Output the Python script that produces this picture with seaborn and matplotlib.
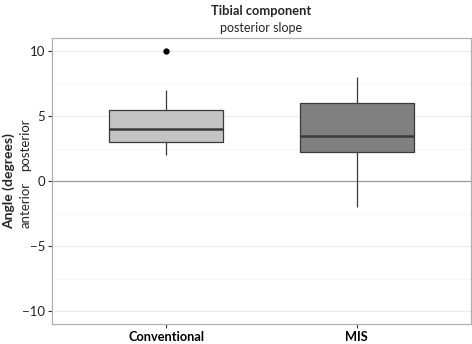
import pandas as pd
import matplotlib.pyplot as plt
import matplotlib.transforms as mtransforms
from matplotlib.ticker import MultipleLocator
import seaborn as sns

# Values (boxes: quartiles, whiskers, outlier)
conventional = [2, 3, 3, 3, 4, 4, 4, 5, 5.5, 5.5, 7, 10]
mis = [-2, 1, 2, 2.5, 3, 3.5, 4, 6, 6, 7, 8]
groups = ['Conventional', 'MIS']
fills = ['#c4c4c4', '#808080']

data = pd.DataFrame({
    'Group': ['Conventional'] * len(conventional) + ['MIS'] * len(mis),
    'Angle': conventional + mis,
})

sns.set_style('white')
plt.rcParams['font.family'] = ['Lato', 'DejaVu Sans']

fig = plt.figure(figsize=(4.72, 3.44), dpi=100)
ax = fig.add_axes([0.1102, 0.0581, 0.8877, 0.8314])

# Grid lines like the ggplot theme
ax.set_axisbelow(True)
ax.yaxis.set_major_locator(MultipleLocator(5))
ax.yaxis.set_minor_locator(MultipleLocator(2.5))
ax.grid(True, which='major', color='#ebebeb', linewidth=0.8)
ax.grid(True, which='minor', axis='y', color='#f6f6f6', linewidth=0.6)
ax.axhline(0, color='#9a9a9a', linewidth=0.9, zorder=1)

sns.boxplot(data=data, x='Group', y='Angle', hue='Group', order=groups,
            palette=fills, legend=False, width=0.6, linecolor='#3a3a3a',
            linewidth=0.9, whis=1.5, showcaps=False, ax=ax,
            medianprops={'linewidth': 1.8, 'color': '#3a3a3a'},
            flierprops={'marker': 'o', 'markersize': 3.5,
                        'markerfacecolor': 'black', 'markeredgecolor': 'black'})

ax.set_xlim(-0.6, 1.6)
ax.set_ylim(-11, 11)
ax.set_xlabel('')
ax.set_ylabel('')

for side in ax.spines.values():
    side.set_color('#b0b0b0')
    side.set_linewidth(0.9)

ax.tick_params(axis='both', which='major', length=3, width=0.8, color='#333333',
               labelsize=9.5, labelcolor='#222222', pad=2, left=True, bottom=True)
ax.tick_params(axis='y', which='minor', length=0)
for lbl in ax.get_xticklabels():
    lbl.set_fontweight('bold')
    lbl.set_fontsize(9.2)
    lbl.set_color('black')
ax.set_yticks([-10, -5, 0, 5, 10])
ax.set_yticklabels(['\u221210', '\u22125', '0', '5', '10'])

# Title and subtitle centred over the panel
fig.text(0.554, 0.985, 'Tibial component', ha='center', va='top',
         fontsize=9.3, fontweight='bold')
fig.text(0.554, 0.935, 'posterior slope', ha='center', va='top', fontsize=9)

# Y axis label with anterior / posterior notes
fig.text(0.019, 0.474, 'Angle (degrees)', rotation=90, ha='center', va='center',
         fontsize=10, fontweight='bold')
trans = mtransforms.blended_transform_factory(fig.transFigure, ax.transData)
fig.text(0.054, 0.75, 'posterior', rotation=90, ha='center', va='bottom',
         fontsize=9.5, transform=trans)
fig.text(0.054, -0.05, 'anterior', rotation=90, ha='center', va='top',
         fontsize=9.5, transform=trans)

fig.savefig('out.png', dpi=100)
